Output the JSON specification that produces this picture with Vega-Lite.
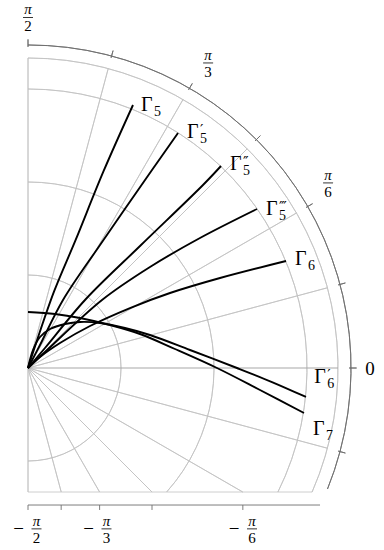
{
  "$schema": "https://vega.github.io/schema/vega-lite/v6.json",
  "width": 310,
  "height": 434,
  "autosize": {"type": "none"},
  "padding": {"left": 28, "top": 58, "right": 46, "bottom": 58},
  "background": "white",
  "config": {"view": {"stroke": null}, "font": "Liberation Serif"},
  "datasets": {
    "arcs": [
      {"r": 0.3, "a1": 90, "a2": -90},
      {"r": 0.6, "a1": 90, "a2": -41.8},
      {"r": 0.9, "a1": 90, "a2": -26.4},
      {"r": 1.0, "a1": 90, "a2": -23.6}
    ],
    "radial": [
      {"a": 90, "r": 1}, {"a": 75, "r": 1}, {"a": 60, "r": 1}, {"a": 45, "r": 1},
      {"a": 30, "r": 1}, {"a": 15, "r": 1}, {"a": -15, "r": 1}, {"a": -30, "r": 0.8},
      {"a": -45, "r": 0.566}, {"a": -60, "r": 0.462}, {"a": -75, "r": 0.414}, {"a": -90, "r": 0.4}
    ],
    "gridrules": [
      {"x": 0, "y": -0.4, "x2": 0.9165, "y2": -0.4}
    ],
    "zeroline": [
      {"x": 0, "y": 0, "x2": 1, "y2": 0}
    ],
    "outerarc": [{"a1": 90, "a2": -22, "r": 1.042}],
    "outerticks": [
      {"a": 90}, {"a": 75}, {"a": 60}, {"a": 45}, {"a": 30}, {"a": 15}, {"a": 0}, {"a": -15}
    ],
    "baxis": [
      {"x": 0, "y": -0.442, "x2": 0.942, "y2": -0.442},
      {"x": 0, "y": -0.442, "x2": 0, "y2": -0.458},
      {"x": 0.107, "y": -0.442, "x2": 0.107, "y2": -0.458},
      {"x": 0.231, "y": -0.442, "x2": 0.231, "y2": -0.458},
      {"x": 0.4, "y": -0.442, "x2": 0.4, "y2": -0.458},
      {"x": 0.693, "y": -0.442, "x2": 0.693, "y2": -0.458}
    ],
    "curves": [
      {"c": "G5", "i": 0, "x": 0, "y": 0},
      {"c": "G5", "i": 1, "x": 0.0247, "y": 0.0761},
      {"c": "G5", "i": 2, "x": 0.0838, "y": 0.2461},
      {"c": "G5", "i": 3, "x": 0.1534, "y": 0.4124},
      {"c": "G5", "i": 4, "x": 0.2437, "y": 0.6348},
      {"c": "G5", "i": 5, "x": 0.3387, "y": 0.8484},
      {"c": "G5p", "i": 0, "x": 0, "y": 0},
      {"c": "G5p", "i": 1, "x": 0.0387, "y": 0.0742},
      {"c": "G5p", "i": 2, "x": 0.1129, "y": 0.2194},
      {"c": "G5p", "i": 3, "x": 0.2323, "y": 0.3968},
      {"c": "G5p", "i": 4, "x": 0.4, "y": 0.6387},
      {"c": "G5p", "i": 5, "x": 0.4839, "y": 0.7581},
      {"c": "G5pp", "i": 0, "x": 0, "y": 0},
      {"c": "G5pp", "i": 1, "x": 0.0548, "y": 0.0645},
      {"c": "G5pp", "i": 2, "x": 0.1839, "y": 0.2194},
      {"c": "G5pp", "i": 3, "x": 0.3613, "y": 0.3935},
      {"c": "G5pp", "i": 4, "x": 0.5645, "y": 0.5903},
      {"c": "G5pp", "i": 5, "x": 0.6226, "y": 0.6516},
      {"c": "G5ppp", "i": 0, "x": 0, "y": 0},
      {"c": "G5ppp", "i": 1, "x": 0.0548, "y": 0.0516},
      {"c": "G5ppp", "i": 2, "x": 0.2387, "y": 0.2194},
      {"c": "G5ppp", "i": 3, "x": 0.3935, "y": 0.3258},
      {"c": "G5ppp", "i": 4, "x": 0.5548, "y": 0.4194},
      {"c": "G5ppp", "i": 5, "x": 0.7387, "y": 0.5129},
      {"c": "G6", "i": 0, "x": 0, "y": 0},
      {"c": "G6", "i": 1, "x": 0.0387, "y": 0.0355},
      {"c": "G6", "i": 2, "x": 0.1032, "y": 0.0806},
      {"c": "G6", "i": 3, "x": 0.2, "y": 0.1355},
      {"c": "G6", "i": 4, "x": 0.329, "y": 0.1935},
      {"c": "G6", "i": 5, "x": 0.4581, "y": 0.2419},
      {"c": "G6", "i": 6, "x": 0.6194, "y": 0.2903},
      {"c": "G6", "i": 7, "x": 0.8323, "y": 0.3452},
      {"c": "G6p", "i": 0, "x": 0, "y": 0},
      {"c": "G6p", "i": 1, "x": 0.0161, "y": 0.0581},
      {"c": "G6p", "i": 2, "x": 0.0387, "y": 0.1},
      {"c": "G6p", "i": 3, "x": 0.071, "y": 0.1258},
      {"c": "G6p", "i": 4, "x": 0.1194, "y": 0.1419},
      {"c": "G6p", "i": 5, "x": 0.1677, "y": 0.1484},
      {"c": "G6p", "i": 6, "x": 0.2323, "y": 0.1452},
      {"c": "G6p", "i": 7, "x": 0.3129, "y": 0.129},
      {"c": "G6p", "i": 8, "x": 0.3935, "y": 0.1065},
      {"c": "G6p", "i": 9, "x": 0.5226, "y": 0.0581},
      {"c": "G6p", "i": 10, "x": 0.6742, "y": 0},
      {"c": "G6p", "i": 11, "x": 0.7871, "y": -0.0452},
      {"c": "G6p", "i": 12, "x": 0.8968, "y": -0.0935},
      {"c": "G7", "i": 0, "x": 0, "y": 0.1806},
      {"c": "G7", "i": 1, "x": 0.0871, "y": 0.1742},
      {"c": "G7", "i": 2, "x": 0.1677, "y": 0.1613},
      {"c": "G7", "i": 3, "x": 0.2645, "y": 0.1387},
      {"c": "G7", "i": 4, "x": 0.3613, "y": 0.1097},
      {"c": "G7", "i": 5, "x": 0.4742, "y": 0.0613},
      {"c": "G7", "i": 6, "x": 0.6097, "y": 0},
      {"c": "G7", "i": 7, "x": 0.7484, "y": -0.071},
      {"c": "G7", "i": 8, "x": 0.8903, "y": -0.1452}
    ],
    "glab": [
      {"x": 0.3645, "y": 0.829, "sub": "5", "pr": ""},
      {"x": 0.513, "y": 0.742, "sub": "5", "pr": "′"},
      {"x": 0.652, "y": 0.639, "sub": "5", "pr": "″"},
      {"x": 0.768, "y": 0.494, "sub": "5", "pr": "‴"},
      {"x": 0.861, "y": 0.332, "sub": "6", "pr": ""},
      {"x": 0.923, "y": -0.048, "sub": "6", "pr": "′"},
      {"x": 0.919, "y": -0.216, "sub": "7", "pr": ""}
    ],
    "fracs": [
      {"x": 0, "y": 1.131, "den": "2", "m": ""},
      {"x": 0.581, "y": 0.984, "den": "3", "m": ""},
      {"x": 0.968, "y": 0.597, "den": "6", "m": ""},
      {"x": 0.0274, "y": -0.519, "den": "2", "m": "−"},
      {"x": 0.2532, "y": -0.519, "den": "3", "m": "−"},
      {"x": 0.7226, "y": -0.519, "den": "6", "m": "−"}
    ],
    "zerolab": [{"x": 1.103, "y": -0.003, "t": "0"}]
  },
  "layer": [
    {
      "data": {"name": "arcs"},
      "mark": {"type": "arc", "filled": false, "stroke": "#c2c2c2", "strokeWidth": 0.8},
      "encoding": {
        "x": {"datum": 0, "type": "quantitative", "scale": {"domain": [0, 1], "nice": false, "zero": false}, "axis": null},
        "y": {"datum": 0, "type": "quantitative", "scale": {"domain": [-0.4, 1], "nice": false, "zero": false}, "axis": null},
        "theta": {"field": "a1", "type": "quantitative", "stack": null, "scale": {"type": "linear", "domain": [90, -270], "range": [0, 6.283185307]}},
        "theta2": {"field": "a2"},
        "radius": {"field": "r", "type": "quantitative", "scale": {"type": "linear", "domain": [0, 1], "range": [0, 310]}},
        "radius2": {"field": "r"}
      }
    },
    {
      "data": {"name": "radial"},
      "mark": {"type": "arc", "filled": false, "stroke": "#c2c2c2", "strokeWidth": 0.8},
      "encoding": {
        "x": {"datum": 0, "type": "quantitative", "scale": {"domain": [0, 1], "nice": false, "zero": false}, "axis": null},
        "y": {"datum": 0, "type": "quantitative", "scale": {"domain": [-0.4, 1], "nice": false, "zero": false}, "axis": null},
        "theta": {"field": "a", "type": "quantitative", "stack": null, "scale": {"type": "linear", "domain": [90, -270], "range": [0, 6.283185307]}},
        "theta2": {"field": "a"},
        "radius": {"field": "r", "type": "quantitative", "scale": {"type": "linear", "domain": [0, 1], "range": [0, 310]}},
        "radius2": {"datum": 0}
      }
    },
    {
      "data": {"name": "gridrules"},
      "mark": {"type": "rule", "color": "#c2c2c2", "strokeWidth": 0.8},
      "encoding": {
        "x": {"field": "x", "type": "quantitative", "scale": {"domain": [0, 1], "nice": false, "zero": false}, "axis": null},
        "y": {"field": "y", "type": "quantitative", "scale": {"domain": [-0.4, 1], "nice": false, "zero": false}, "axis": null},
        "x2": {"field": "x2"},
        "y2": {"field": "y2"}
      }
    },
    {
      "data": {"name": "zeroline"},
      "mark": {"type": "rule", "color": "#a8a8a8", "strokeWidth": 1.2},
      "encoding": {
        "x": {"field": "x", "type": "quantitative", "scale": {"domain": [0, 1], "nice": false, "zero": false}, "axis": null},
        "y": {"field": "y", "type": "quantitative", "scale": {"domain": [-0.4, 1], "nice": false, "zero": false}, "axis": null},
        "x2": {"field": "x2"},
        "y2": {"field": "y2"}
      }
    },
    {
      "data": {"name": "outerarc"},
      "mark": {"type": "arc", "filled": false, "stroke": "#6e6e6e", "strokeWidth": 0.9},
      "encoding": {
        "x": {"datum": 0, "type": "quantitative", "scale": {"domain": [0, 1], "nice": false, "zero": false}, "axis": null},
        "y": {"datum": 0, "type": "quantitative", "scale": {"domain": [-0.4, 1], "nice": false, "zero": false}, "axis": null},
        "theta": {"field": "a1", "type": "quantitative", "stack": null, "scale": {"type": "linear", "domain": [90, -270], "range": [0, 6.283185307]}},
        "theta2": {"field": "a2"},
        "radius": {"field": "r", "type": "quantitative", "scale": {"type": "linear", "domain": [0, 1], "range": [0, 310]}},
        "radius2": {"field": "r"}
      }
    },
    {
      "data": {"name": "outerticks"},
      "mark": {"type": "arc", "filled": false, "stroke": "#6e6e6e", "strokeWidth": 0.9},
      "encoding": {
        "x": {"datum": 0, "type": "quantitative", "scale": {"domain": [0, 1], "nice": false, "zero": false}, "axis": null},
        "y": {"datum": 0, "type": "quantitative", "scale": {"domain": [-0.4, 1], "nice": false, "zero": false}, "axis": null},
        "theta": {"field": "a", "type": "quantitative", "stack": null, "scale": {"type": "linear", "domain": [90, -270], "range": [0, 6.283185307]}},
        "theta2": {"field": "a"},
        "radius": {"datum": 1.06, "type": "quantitative", "scale": {"type": "linear", "domain": [0, 1], "range": [0, 310]}},
        "radius2": {"datum": 1.036}
      }
    },
    {
      "data": {"name": "baxis"},
      "mark": {"type": "rule", "color": "#6e6e6e", "strokeWidth": 0.9},
      "encoding": {
        "x": {"field": "x", "type": "quantitative", "scale": {"domain": [0, 1], "nice": false, "zero": false}, "axis": null},
        "y": {"field": "y", "type": "quantitative", "scale": {"domain": [-0.4, 1], "nice": false, "zero": false}, "axis": null},
        "x2": {"field": "x2"},
        "y2": {"field": "y2"}
      }
    },
    {
      "data": {"name": "curves"},
      "mark": {"type": "line", "color": "black", "strokeWidth": 1.9, "interpolate": "catmull-rom"},
      "encoding": {
        "x": {"field": "x", "type": "quantitative", "scale": {"domain": [0, 1], "nice": false, "zero": false}, "axis": null},
        "y": {"field": "y", "type": "quantitative", "scale": {"domain": [-0.4, 1], "nice": false, "zero": false}, "axis": null},
        "detail": {"field": "c"},
        "order": {"field": "i", "type": "quantitative"}
      }
    },
    {
      "data": {"name": "glab"},
      "mark": {"type": "text", "text": "Γ", "fontSize": 20, "align": "left", "baseline": "alphabetic", "color": "black"},
      "encoding": {
        "x": {"field": "x", "type": "quantitative", "scale": {"domain": [0, 1], "nice": false, "zero": false}, "axis": null},
        "y": {"field": "y", "type": "quantitative", "scale": {"domain": [-0.4, 1], "nice": false, "zero": false}, "axis": null}
      }
    },
    {
      "data": {"name": "glab"},
      "mark": {"type": "text", "fontSize": 14, "align": "left", "baseline": "alphabetic", "dx": 13, "dy": 5, "color": "black"},
      "encoding": {
        "x": {"field": "x", "type": "quantitative", "scale": {"domain": [0, 1], "nice": false, "zero": false}, "axis": null},
        "y": {"field": "y", "type": "quantitative", "scale": {"domain": [-0.4, 1], "nice": false, "zero": false}, "axis": null},
        "text": {"field": "sub"}
      }
    },
    {
      "data": {"name": "glab"},
      "mark": {"type": "text", "font": "DejaVu Serif", "fontSize": 15, "align": "left", "baseline": "alphabetic", "dx": 13, "dy": -3, "color": "black"},
      "encoding": {
        "x": {"field": "x", "type": "quantitative", "scale": {"domain": [0, 1], "nice": false, "zero": false}, "axis": null},
        "y": {"field": "y", "type": "quantitative", "scale": {"domain": [-0.4, 1], "nice": false, "zero": false}, "axis": null},
        "text": {"field": "pr"}
      }
    },
    {
      "data": {"name": "fracs"},
      "mark": {"type": "text", "text": "π", "fontSize": 15, "fontStyle": "italic", "align": "center", "baseline": "alphabetic", "dy": -3, "color": "black"},
      "encoding": {
        "x": {"field": "x", "type": "quantitative", "scale": {"domain": [0, 1], "nice": false, "zero": false}, "axis": null},
        "y": {"field": "y", "type": "quantitative", "scale": {"domain": [-0.4, 1], "nice": false, "zero": false}, "axis": null}
      }
    },
    {
      "data": {"name": "fracs"},
      "mark": {"type": "text", "fontSize": 15, "align": "center", "baseline": "alphabetic", "dy": 14, "color": "black"},
      "encoding": {
        "x": {"field": "x", "type": "quantitative", "scale": {"domain": [0, 1], "nice": false, "zero": false}, "axis": null},
        "y": {"field": "y", "type": "quantitative", "scale": {"domain": [-0.4, 1], "nice": false, "zero": false}, "axis": null},
        "text": {"field": "den"}
      }
    },
    {
      "data": {"name": "fracs"},
      "mark": {"type": "tick", "orient": "horizontal", "size": 10, "thickness": 0.8, "color": "black", "opacity": 1},
      "encoding": {
        "x": {"field": "x", "type": "quantitative", "scale": {"domain": [0, 1], "nice": false, "zero": false}, "axis": null},
        "y": {"field": "y", "type": "quantitative", "scale": {"domain": [-0.4, 1], "nice": false, "zero": false}, "axis": null}
      }
    },
    {
      "data": {"name": "fracs"},
      "mark": {"type": "text", "fontSize": 19, "align": "center", "baseline": "middle", "dx": -18, "color": "black"},
      "encoding": {
        "x": {"field": "x", "type": "quantitative", "scale": {"domain": [0, 1], "nice": false, "zero": false}, "axis": null},
        "y": {"field": "y", "type": "quantitative", "scale": {"domain": [-0.4, 1], "nice": false, "zero": false}, "axis": null},
        "text": {"field": "m"}
      }
    },
    {
      "data": {"name": "zerolab"},
      "mark": {"type": "text", "fontSize": 19, "align": "center", "baseline": "middle", "color": "black"},
      "encoding": {
        "x": {"field": "x", "type": "quantitative", "scale": {"domain": [0, 1], "nice": false, "zero": false}, "axis": null},
        "y": {"field": "y", "type": "quantitative", "scale": {"domain": [-0.4, 1], "nice": false, "zero": false}, "axis": null},
        "text": {"field": "t"}
      }
    }
  ]
}
